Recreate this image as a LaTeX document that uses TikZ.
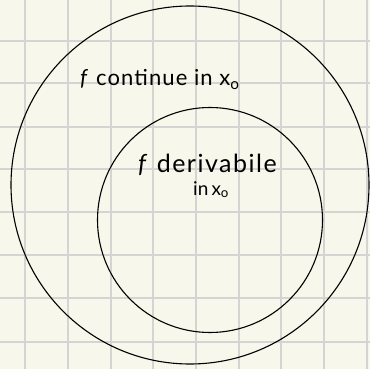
\documentclass[tikz,border=0pt]{standalone}
\usepackage{xcolor}
\usepackage{fontspec}
\setmainfont{Lato}
\usepackage{tikz}
\usetikzlibrary{positioning}
\definecolor{paper}{RGB}{248,247,236}
\definecolor{gridgray}{RGB}{212,212,210}
\newcommand{\fsym}{\textit{f}}
\newcommand{\xo}{x\textsubscript{o}}

\begin{document}
\begin{tikzpicture}[x=1pt,y=-1pt,ring/.style={draw=black,line width=1.1pt,circle,inner sep=0pt},lbl/.style={font=\fontsize{22}{24}\selectfont\addfontfeatures{LetterSpace=5},inner sep=0pt,anchor=base west},sub/.style={font=\fontsize{19}{21}\selectfont,inner sep=0pt,anchor=base west}]
\useasboundingbox (0,0) rectangle (370,369);
\fill[paper] (0,0) rectangle (370,369);
\foreach \gx in {25,68,111,153,196,239,281,324,367}{\draw[gridgray,line width=1.6pt] (\gx,0)--(\gx,369);}
\foreach \gy in {41,83,127,169,212,255,298,342}{\draw[gridgray,line width=1.6pt] (0,\gy)--(370,\gy);}
\node[ring,minimum size=358pt] (outer) at (190,185) {};
\node[ring,minimum size=225pt] (inner) at (210,220) {};
\node[lbl] (cont) at (80,86) {\fsym\ continue in \xo};
\node[lbl,font=\fontsize{25}{27}\selectfont\addfontfeatures{LetterSpace=6}] (deriv) at (138,172) {\fsym\ derivabile};
\node[sub] (inx) at (193,195) {in\,\xo};
\end{tikzpicture}
\end{document}
